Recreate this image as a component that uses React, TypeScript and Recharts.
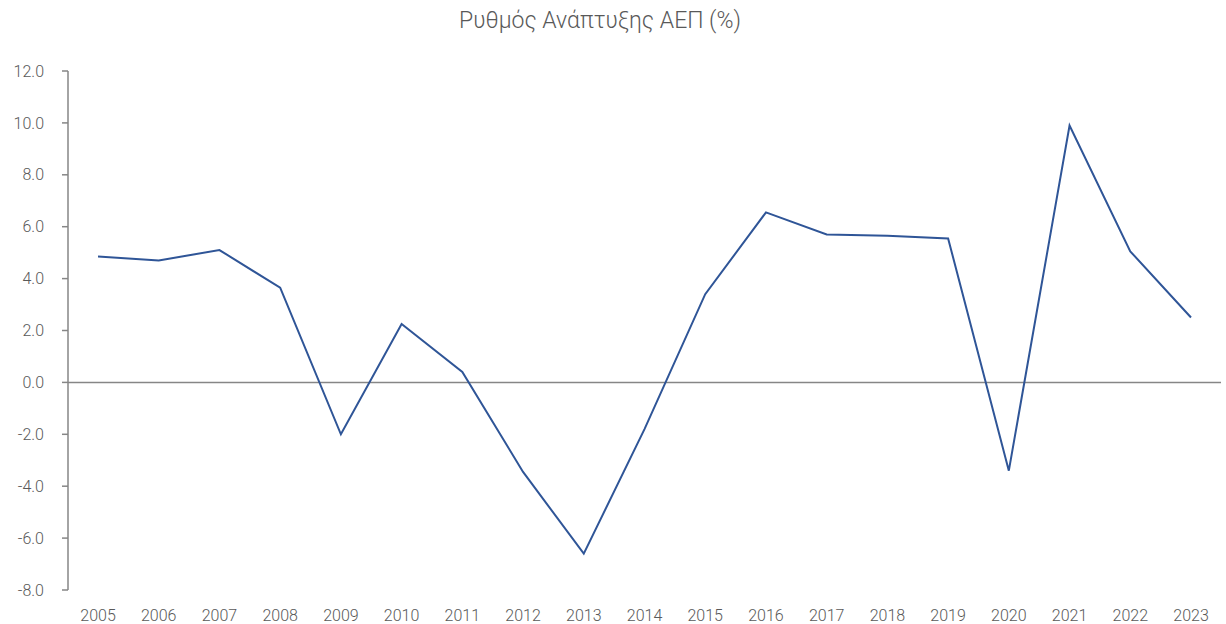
import { LineChart, Line, XAxis, YAxis, ReferenceLine } from 'recharts';

const years = [
  '2005', '2006', '2007', '2008', '2009', '2010', '2011', '2012', '2013', '2014',
  '2015', '2016', '2017', '2018', '2019', '2020', '2021', '2022', '2023',
];
const growth = [
  4.85, 4.7, 5.1, 3.65, -2.0, 2.25, 0.4, -3.45, -6.6, -1.8,
  3.4, 6.55, 5.7, 5.65, 5.55, -3.4, 9.9, 5.05, 2.5,
];
const yTicks = [-8, -6, -4, -2, 0, 2, 4, 6, 8, 10, 12];

const data = years.map((year, i) => ({ year, value: growth[i] }));

const font = 'Roboto, "DejaVu Sans", sans-serif';
const textColor = '#595959';
const axisColor = '#868686';

export default function App() {
  return (
    <div style={{ position: 'absolute', left: 0, top: 0, width: 1226, height: 624, background: '#fff', fontFamily: font }}>
      <div
        style={{
          position: 'absolute', left: 0, top: 7, width: 1200, textAlign: 'center',
          fontSize: 23, fontWeight: 300, color: textColor,
        }}
      >
        Ρυθμός Ανάπτυξης ΑΕΠ (%)
      </div>
      <LineChart width={1226} height={624} data={data} margin={{ top: 71, right: 5, bottom: 0, left: 0 }}>
        <XAxis
          dataKey="year"
          axisLine={false}
          tickLine={false}
          height={34}
          padding={{ left: 30, right: 30 }}
          tickMargin={14}
          tick={{ fill: textColor, fontSize: 16, fontWeight: 300, fontFamily: font }}
          interval={0}
        />
        <YAxis
          domain={[-8, 12]}
          ticks={yTicks}
          width={68}
          tickFormatter={(v: number) => v.toFixed(1)}
          axisLine={{ stroke: axisColor, strokeWidth: 1.5 }}
          tickLine={{ stroke: axisColor, strokeWidth: 1.5 }}
          tickSize={6}
          tickMargin={18}
          tick={{ fill: textColor, fontSize: 16, fontWeight: 300, fontFamily: font }}
          allowDataOverflow
        />
        <ReferenceLine y={0} stroke={axisColor} strokeWidth={1.5} />
        <Line
          type="linear"
          dataKey="value"
          stroke="#2F5597"
          strokeWidth={2}
          dot={false}
          isAnimationActive={false}
        />
      </LineChart>
    </div>
  );
}
